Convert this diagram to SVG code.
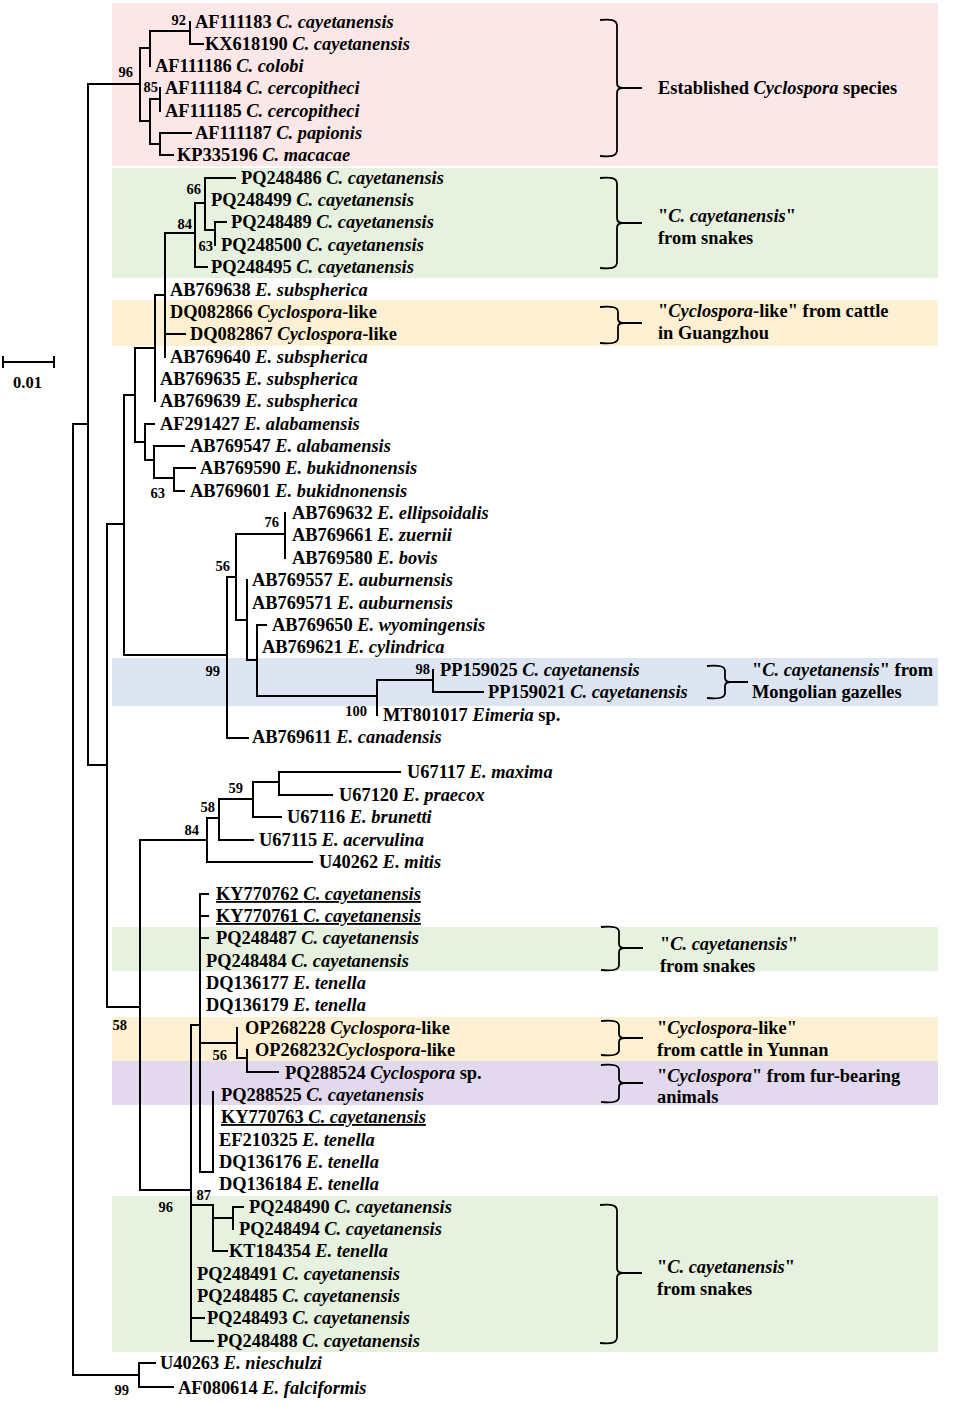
<svg xmlns="http://www.w3.org/2000/svg" width="955" height="1404" viewBox="0 0 955 1404">
<style>
.t{font-family:"Liberation Serif","Times New Roman",serif;font-weight:bold;font-size:18.4px;fill:#000}
.i{font-style:italic}
.u{text-decoration:underline}
.bs{font-family:"Liberation Serif","Times New Roman",serif;font-weight:bold;font-size:14.5px;fill:#000;text-anchor:end}
.br{stroke:#000;stroke-width:2;fill:none;stroke-linecap:square}
.brace{stroke:#000;stroke-width:1.8;fill:none}
.pink{fill:#fbe7e7}.green{fill:#e6f1df}.yellow{fill:#fdf0d3}.blue{fill:#dde5f3}.purple{fill:#e3d9ee}
</style>
<rect width="955" height="1404" fill="#fff"/>
<g id="bands">
<rect class="pink" x="112" y="3" width="826" height="163"/>
<rect class="green" x="112" y="168" width="826" height="110"/>
<rect class="yellow" x="112" y="300" width="826" height="46"/>
<rect class="blue" x="112" y="658" width="826" height="48"/>
<rect class="green" x="112" y="927" width="826" height="44"/>
<rect class="yellow" x="112" y="1017" width="826" height="44"/>
<rect class="purple" x="112" y="1061" width="826" height="44"/>
<rect class="green" x="112" y="1196" width="826" height="156"/>
</g>
<g id="connectors" class="br">
<path d="M73,424V1375M73,424H88M73,1375H139"/>
<path d="M88,84V765M88,84H140M88,765H107"/>
<path d="M140,48V121M140,48H150M140,121H150"/>
<path d="M150,31V66M150,31H190"/>
<path d="M190,22V44M190,44H203"/>
<path d="M150,99V144M150,99H160M150,144H160"/>
<path d="M160,88V111"/>
<path d="M160,133V155M160,133H191M160,155H173"/>
<path d="M107,524V1007M107,524H124M107,1007H140"/>
<path d="M124,395V655M124,395H135M124,655H227"/>
<path d="M135,348V442M135,348H155M135,442H145"/>
<path d="M155,295V401M155,295H165"/>
<path d="M165,233V357M165,233H195M165,334H185"/>
<path d="M195,203V267M195,203H205M195,267H207"/>
<path d="M205,178V230M205,178H235M205,230H215"/>
<path d="M215,222V245M215,222H226"/>
<path d="M145,424V460M145,424H154M145,460H154"/>
<path d="M154,446V478M154,446H184M154,478H174"/>
<path d="M174,468V491M174,468H195M174,491H184"/>
<path d="M227,577V738M227,577H236M227,738H248"/>
<path d="M236,534V620M236,534H285M236,620H247"/>
<path d="M285,513V558"/>
<path d="M247,580V660M247,660H257"/>
<path d="M257,625V696M257,625H266M257,696H377"/>
<path d="M377,680V715M377,680H433"/>
<path d="M433,670V692M433,692H483"/>
<path d="M140,840V1190M140,840H207M140,1190H191"/>
<path d="M207,818V862M207,818H219M207,862H312"/>
<path d="M219,799V840M219,799H253M219,840H253"/>
<path d="M253,782V817M253,782H279M253,817H281"/>
<path d="M279,772V795M279,772H400M279,795H332"/>
<path d="M191,1025V1341M191,1025H200M191,1205H213M191,1318H204M191,1341H213"/>
<path d="M200,894V1172H213V1092M200,894H208M200,916H208M200,938H208M200,1043H237"/>
<path d="M237,1028V1058H247"/>
<path d="M247,1050V1072H278"/>
<path d="M213,1205V1251H227M213,1218H233"/>
<path d="M233,1207V1229M233,1207H243"/>
<path d="M139,1363V1387M139,1363H155M139,1387H173"/>
</g>
<g id="scale-bar">
<path class="br" d="M3,362H54M3,357V367M54,357V367"/>
<text class="t" x="13" y="388" style="font-size:16.5px">0.01</text>
</g>
<g id="bootstrap">
<text class="bs" x="186" y="25">92</text>
<text class="bs" x="133" y="77">96</text>
<text class="bs" x="158" y="92">85</text>
<text class="bs" x="201" y="194">66</text>
<text class="bs" x="192" y="229">84</text>
<text class="bs" x="213" y="251">63</text>
<text class="bs" x="165" y="498">63</text>
<text class="bs" x="279" y="527">76</text>
<text class="bs" x="230" y="571">56</text>
<text class="bs" x="220" y="676">99</text>
<text class="bs" x="430" y="674">98</text>
<text class="bs" x="367" y="716">100</text>
<text class="bs" x="243" y="793">59</text>
<text class="bs" x="215" y="812">58</text>
<text class="bs" x="199" y="835">84</text>
<text class="bs" x="127" y="1030">58</text>
<text class="bs" x="227" y="1060">56</text>
<text class="bs" x="211" y="1200">87</text>
<text class="bs" x="173" y="1212">96</text>
<text class="bs" x="129" y="1395">99</text>
</g>
<g id="tips">
<g id="AF111183"><text class="t" x="195" y="28">AF111183 <tspan class="i">C. cayetanensis</tspan></text></g>
<g id="KX618190"><text class="t" x="205" y="50">KX618190 <tspan class="i">C. cayetanensis</tspan></text></g>
<g id="AF111186"><text class="t" x="155" y="72">AF111186 <tspan class="i">C. colobi</tspan></text></g>
<g id="AF111184"><text class="t" x="165" y="94">AF111184 <tspan class="i">C. cercopitheci</tspan></text></g>
<g id="AF111185"><text class="t" x="165" y="117">AF111185 <tspan class="i">C. cercopitheci</tspan></text></g>
<g id="AF111187"><text class="t" x="195" y="139">AF111187 <tspan class="i">C. papionis</tspan></text></g>
<g id="KP335196"><text class="t" x="177" y="161">KP335196 <tspan class="i">C. macacae</tspan></text></g>
<g id="PQ248486"><text class="t" x="241" y="184">PQ248486 <tspan class="i">C. cayetanensis</tspan></text></g>
<g id="PQ248499"><text class="t" x="211" y="206">PQ248499 <tspan class="i">C. cayetanensis</tspan></text></g>
<g id="PQ248489"><text class="t" x="231" y="228">PQ248489 <tspan class="i">C. cayetanensis</tspan></text></g>
<g id="PQ248500"><text class="t" x="221" y="251">PQ248500 <tspan class="i">C. cayetanensis</tspan></text></g>
<g id="PQ248495"><text class="t" x="211" y="273">PQ248495 <tspan class="i">C. cayetanensis</tspan></text></g>
<g id="AB769638"><text class="t" x="170" y="296">AB769638 <tspan class="i">E. subspherica</tspan></text></g>
<g id="DQ082866"><text class="t" x="170" y="318">DQ082866 <tspan class="i">Cyclospora</tspan>-like</text></g>
<g id="DQ082867"><text class="t" x="190" y="340">DQ082867 <tspan class="i">Cyclospora</tspan>-like</text></g>
<g id="AB769640"><text class="t" x="170" y="363">AB769640 <tspan class="i">E. subspherica</tspan></text></g>
<g id="AB769635"><text class="t" x="160" y="385">AB769635 <tspan class="i">E. subspherica</tspan></text></g>
<g id="AB769639"><text class="t" x="160" y="407">AB769639 <tspan class="i">E. subspherica</tspan></text></g>
<g id="AF291427"><text class="t" x="160" y="430">AF291427 <tspan class="i">E. alabamensis</tspan></text></g>
<g id="AB769547"><text class="t" x="190" y="452">AB769547 <tspan class="i">E. alabamensis</tspan></text></g>
<g id="AB769590"><text class="t" x="200" y="474">AB769590 <tspan class="i">E. bukidnonensis</tspan></text></g>
<g id="AB769601"><text class="t" x="190" y="497">AB769601 <tspan class="i">E. bukidnonensis</tspan></text></g>
<g id="AB769632"><text class="t" x="292" y="519">AB769632 <tspan class="i">E. ellipsoidalis</tspan></text></g>
<g id="AB769661"><text class="t" x="292" y="541">AB769661 <tspan class="i">E. zuernii</tspan></text></g>
<g id="AB769580"><text class="t" x="292" y="564">AB769580 <tspan class="i">E. bovis</tspan></text></g>
<g id="AB769557"><text class="t" x="252" y="586">AB769557 <tspan class="i">E. auburnensis</tspan></text></g>
<g id="AB769571"><text class="t" x="252" y="609">AB769571 <tspan class="i">E. auburnensis</tspan></text></g>
<g id="AB769650"><text class="t" x="272" y="631">AB769650 <tspan class="i">E. wyomingensis</tspan></text></g>
<g id="AB769621"><text class="t" x="262" y="653">AB769621 <tspan class="i">E. cylindrica</tspan></text></g>
<g id="PP159025"><text class="t" x="440" y="676">PP159025 <tspan class="i">C. cayetanensis</tspan></text></g>
<g id="PP159021"><text class="t" x="488" y="698">PP159021 <tspan class="i">C. cayetanensis</tspan></text></g>
<g id="MT801017"><text class="t" x="383" y="721">MT801017 <tspan class="i">Eimeria</tspan> sp.</text></g>
<g id="AB769611"><text class="t" x="252" y="743">AB769611 <tspan class="i">E. canadensis</tspan></text></g>
<g id="U67117"><text class="t" x="407" y="778">U67117 <tspan class="i">E. maxima</tspan></text></g>
<g id="U67120"><text class="t" x="339" y="801">U67120 <tspan class="i">E. praecox</tspan></text></g>
<g id="U67116"><text class="t" x="287" y="823">U67116 <tspan class="i">E. brunetti</tspan></text></g>
<g id="U67115"><text class="t" x="259" y="846">U67115 <tspan class="i">E. acervulina</tspan></text></g>
<g id="U40262"><text class="t" x="319" y="868">U40262 <tspan class="i">E. mitis</tspan></text></g>
<g id="KY770762"><text class="t u" x="216" y="900">KY770762 <tspan class="i">C. cayetanensis</tspan></text></g>
<g id="KY770761"><text class="t u" x="216" y="922">KY770761 <tspan class="i">C. cayetanensis</tspan></text></g>
<g id="PQ248487"><text class="t" x="216" y="944">PQ248487 <tspan class="i">C. cayetanensis</tspan></text></g>
<g id="PQ248484"><text class="t" x="206" y="967">PQ248484 <tspan class="i">C. cayetanensis</tspan></text></g>
<g id="DQ136177"><text class="t" x="206" y="989">DQ136177 <tspan class="i">E. tenella</tspan></text></g>
<g id="DQ136179"><text class="t" x="206" y="1011">DQ136179 <tspan class="i">E. tenella</tspan></text></g>
<g id="OP268228"><text class="t" x="245" y="1034">OP268228 <tspan class="i">Cyclospora</tspan>-like</text></g>
<g id="OP268232"><text class="t" x="255" y="1056">OP268232<tspan class="i">Cyclospora</tspan>-like</text></g>
<g id="PQ288524"><text class="t" x="285" y="1079">PQ288524 <tspan class="i">Cyclospora</tspan> sp.</text></g>
<g id="PQ288525"><text class="t" x="221" y="1101">PQ288525 <tspan class="i">C. cayetanensis</tspan></text></g>
<g id="KY770763"><text class="t u" x="221" y="1123">KY770763 <tspan class="i">C. cayetanensis</tspan></text></g>
<g id="EF210325"><text class="t" x="219" y="1146">EF210325 <tspan class="i">E. tenella</tspan></text></g>
<g id="DQ136176"><text class="t" x="219" y="1168">DQ136176 <tspan class="i">E. tenella</tspan></text></g>
<g id="DQ136184"><text class="t" x="219" y="1190">DQ136184 <tspan class="i">E. tenella</tspan></text></g>
<g id="PQ248490"><text class="t" x="249" y="1213">PQ248490 <tspan class="i">C. cayetanensis</tspan></text></g>
<g id="PQ248494"><text class="t" x="239" y="1235">PQ248494 <tspan class="i">C. cayetanensis</tspan></text></g>
<g id="KT184354"><text class="t" x="229" y="1257">KT184354 <tspan class="i">E. tenella</tspan></text></g>
<g id="PQ248491"><text class="t" x="197" y="1280">PQ248491 <tspan class="i">C. cayetanensis</tspan></text></g>
<g id="PQ248485"><text class="t" x="197" y="1302">PQ248485 <tspan class="i">C. cayetanensis</tspan></text></g>
<g id="PQ248493"><text class="t" x="207" y="1324">PQ248493 <tspan class="i">C. cayetanensis</tspan></text></g>
<g id="PQ248488"><text class="t" x="217" y="1347">PQ248488 <tspan class="i">C. cayetanensis</tspan></text></g>
<g id="U40263"><text class="t" x="160" y="1369">U40263 <tspan class="i">E. nieschulzi</tspan></text></g>
<g id="AF080614"><text class="t" x="178" y="1394">AF080614 <tspan class="i">E. falciformis</tspan></text></g>
</g>
<g id="clade-labels">
<g id="clade-established">
<path class="brace" d="M600,20C612,19 617,20 617,26V83C617,86 619,88 623,88C619,88 617,90 617,93V150C617,156 612,157 600,156M623,88H642"/>
<text class="t" x="658" y="94">Established <tspan class="i">Cyclospora</tspan> species</text>
</g>
<g id="clade-snakes-1">
<path class="brace" d="M600,178C612,177 617,178 617,184V218C617,221 619,223 623,223C619,223 617,225 617,228V262C617,268 612,269 600,268M623,223H642"/>
<text class="t" x="658" y="222">"<tspan class="i">C. cayetanensis</tspan>"</text>
<text class="t" x="658" y="244">from snakes</text>
</g>
<g id="clade-guangzhou">
<path class="brace" d="M600,307C612,306 618,307 618,312V319C618,321 620,323 624,323C620,323 618,325 618,327V338C618,343 612,344 600,343M624,323H642"/>
<text class="t" x="658" y="317">"<tspan class="i">Cyclospora</tspan>-like" from cattle</text>
<text class="t" x="658" y="339">in Guangzhou</text>
</g>
<g id="clade-gazelles">
<path class="brace" d="M707,666C719,665 725,666 725,671V678C725,680 727,682 731,682C727,682 725,684 725,686V693C725,698 719,699 707,698M731,682H748"/>
<text class="t" x="752" y="676">"<tspan class="i">C. cayetanensis</tspan>" from</text>
<text class="t" x="752" y="698">Mongolian gazelles</text>
</g>
<g id="clade-snakes-2">
<path class="brace" d="M601,927C613,926 619,927 619,932V944C619,946 621,948 625,948C621,948 619,950 619,952V965C619,970 613,971 601,970M625,948H643"/>
<text class="t" x="660" y="950">"<tspan class="i">C. cayetanensis</tspan>"</text>
<text class="t" x="660" y="972">from snakes</text>
</g>
<g id="clade-yunnan">
<path class="brace" d="M601,1021C613,1020 619,1021 619,1026V1034C619,1036 621,1038 625,1038C621,1038 619,1040 619,1042V1050C619,1055 613,1056 601,1055M625,1038H643"/>
<text class="t" x="657" y="1034">"<tspan class="i">Cyclospora</tspan>-like"</text>
<text class="t" x="657" y="1056">from cattle in Yunnan</text>
</g>
<g id="clade-fur">
<path class="brace" d="M601,1065C613,1064 619,1065 619,1070V1079C619,1081 621,1083 625,1083C621,1083 619,1085 619,1087V1097C619,1102 613,1103 601,1102M625,1083H643"/>
<text class="t" x="657" y="1082">"<tspan class="i">Cyclospora</tspan>" from fur-bearing</text>
<text class="t" x="657" y="1103">animals</text>
</g>
<g id="clade-snakes-3">
<path class="brace" d="M600,1205C612,1204 617,1205 617,1211V1268C617,1271 619,1273 623,1273C619,1273 617,1275 617,1278V1337C617,1343 612,1344 600,1343M623,1273H642"/>
<text class="t" x="657" y="1273">"<tspan class="i">C. cayetanensis</tspan>"</text>
<text class="t" x="657" y="1295">from snakes</text>
</g>
</g>
</svg>
